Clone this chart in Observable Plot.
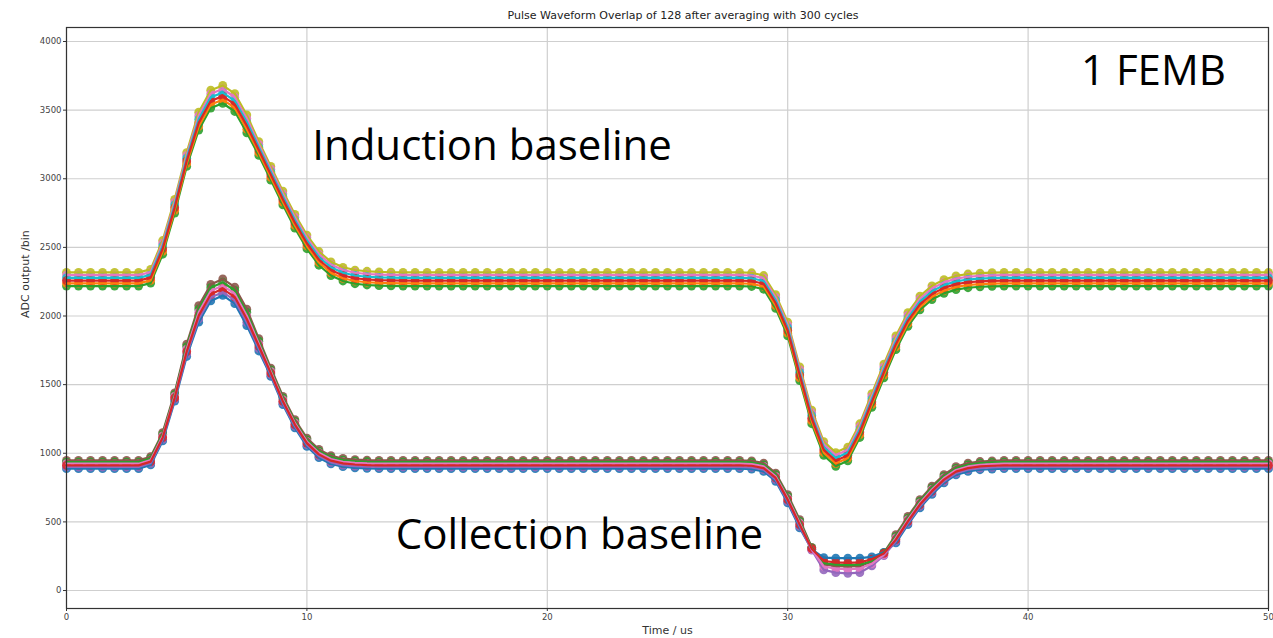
<!DOCTYPE html>
<html>
<head>
<meta charset="utf-8">
<script src="https://cdn.jsdelivr.net/npm/d3@7"></script>
<script src="https://cdn.jsdelivr.net/npm/@observablehq/plot@0.6"></script>
<style>
  html, body { margin: 0; padding: 0; background: #fff; }
  #title { height: 24px; box-sizing: border-box; padding-top: 10px; padding-left: 93px; line-height: 12px;
           text-align: center; font-family: "DejaVu Sans", sans-serif; font-size: 11px; color: #222; }
  #chart svg { display: block; }
</style>
</head>
<body>
<div id="title">Pulse Waveform Overlap of 128 after averaging with 300 cycles</div>
<div id="chart"></div>
<script>
// ---------- data ----------
const time = [
  0,0.5,1,1.5,2,2.5,3,3.5,4,4.5,
  5,5.5,6,6.5,7,7.5,8,8.5,9,9.5,
  10,10.5,11,11.5,12,12.5,13,13.5,14,14.5,
  15,15.5,16,16.5,17,17.5,18,18.5,19,19.5,
  20,20.5,21,21.5,22,22.5,23,23.5,24,24.5,
  25,25.5,26,26.5,27,27.5,28,28.5,29,29.5,
  30,30.5,31,31.5,32,32.5,33,33.5,34,34.5,
  35,35.5,36,36.5,37,37.5,38,38.5,39,39.5,
  40,40.5,41,41.5,42,42.5,43,43.5,44,44.5,
  45,45.5,46,46.5,47,47.5,48,48.5,49,49.5,
  50
];

// Induction-plane channels (ADC counts)
const inductionA = [
  2318,2318,2318,2318,2318,2318,2318,
  2340,2550,2850,3190,3485,3645,3680,3620,3465,3270,3090,2910,2740,2590,2470,2395,2355,2335,2326,2321,2319,
  2318,2318,2318,2318,2318,2318,2318,2318,2318,2318,
  2318,2318,2318,2318,2318,2318,2318,2318,2318,2318,
  2318,2318,2318,2318,2318,2318,2318,2318,2318,
  2315,2295,2155,1955,1630,1315,1085,1005,1045,1215,1435,1650,1855,2025,2145,2220,2265,2292,2306,2313,2316,
  2318,2318,2318,2318,2318,2318,2318,2318,2318,2318,
  2318,2318,2318,2318,2318,2318,2318,2318,2318,2318,
  2318,2318,2318
];
const inductionB = [
  2298,2298,2298,2298,2298,2298,2298,
  2320,2530,2830,3170,3459,3619,3654,3594,3439,3250,3070,2890,2720,2570,2450,2375,2335,2315,2306,2301,2299,
  2298,2298,2298,2298,2298,2298,2298,2298,2298,2298,
  2298,2298,2298,2298,2298,2298,2298,2298,2298,2298,
  2298,2298,2298,2298,2298,2298,2298,2298,2298,
  2295,2275,2135,1935,1610,1295,1065,985,1025,1195,1415,1630,1835,2005,2125,2200,2245,2272,2286,2293,2296,
  2298,2298,2298,2298,2298,2298,2298,2298,2298,2298,
  2298,2298,2298,2298,2298,2298,2298,2298,2298,2298,
  2298,2298,2298
];
const inductionC = [
  2278,2278,2278,2278,2278,2278,2278,
  2300,2510,2810,3150,3433,3593,3628,3568,3413,3230,3050,2870,2700,2550,2430,2355,2315,2295,2286,2281,2279,
  2278,2278,2278,2278,2278,2278,2278,2278,2278,2278,
  2278,2278,2278,2278,2278,2278,2278,2278,2278,2278,
  2278,2278,2278,2278,2278,2278,2278,2278,2278,
  2275,2255,2115,1915,1590,1275,1045,965,1005,1175,1395,1610,1815,1985,2105,2180,2225,2252,2266,2273,2276,
  2278,2278,2278,2278,2278,2278,2278,2278,2278,2278,
  2278,2278,2278,2278,2278,2278,2278,2278,2278,2278,
  2278,2278,2278
];
const inductionD = [
  2258,2258,2258,2258,2258,2258,2258,
  2280,2490,2790,3130,3407,3567,3602,3542,3387,3210,3030,2850,2680,2530,2410,2335,2295,2275,2266,2261,2259,
  2258,2258,2258,2258,2258,2258,2258,2258,2258,2258,
  2258,2258,2258,2258,2258,2258,2258,2258,2258,2258,
  2258,2258,2258,2258,2258,2258,2258,2258,2258,
  2255,2235,2095,1895,1570,1255,1025,945,985,1155,1375,1590,1795,1965,2085,2160,2205,2232,2246,2253,2256,
  2258,2258,2258,2258,2258,2258,2258,2258,2258,2258,
  2258,2258,2258,2258,2258,2258,2258,2258,2258,2258,
  2258,2258,2258
];
const inductionE = [
  2238,2238,2238,2238,2238,2238,2238,
  2260,2470,2770,3110,3381,3541,3576,3516,3361,3190,3010,2830,2660,2510,2390,2315,2275,2255,2246,2241,2239,
  2238,2238,2238,2238,2238,2238,2238,2238,2238,2238,
  2238,2238,2238,2238,2238,2238,2238,2238,2238,2238,
  2238,2238,2238,2238,2238,2238,2238,2238,2238,
  2235,2215,2075,1875,1550,1235,1005,925,965,1135,1355,1570,1775,1945,2065,2140,2185,2212,2226,2233,2236,
  2238,2238,2238,2238,2238,2238,2238,2238,2238,2238,
  2238,2238,2238,2238,2238,2238,2238,2238,2238,2238,
  2238,2238,2238
];
const inductionF = [
  2218,2218,2218,2218,2218,2218,2218,
  2240,2450,2750,3090,3355,3515,3550,3490,3335,3170,2990,2810,2640,2490,2370,2295,2255,2235,2226,2221,2219,
  2218,2218,2218,2218,2218,2218,2218,2218,2218,2218,
  2218,2218,2218,2218,2218,2218,2218,2218,2218,2218,
  2218,2218,2218,2218,2218,2218,2218,2218,2218,
  2215,2195,2055,1855,1530,1215,985,905,945,1115,1335,1550,1755,1925,2045,2120,2165,2192,2206,2213,2216,
  2218,2218,2218,2218,2218,2218,2218,2218,2218,2218,
  2218,2218,2218,2218,2218,2218,2218,2218,2218,2218,
  2218,2218,2218
];

// Collection-plane channels (ADC counts)
const collectionA = [
  948,948,948,948,948,948,948,
  975,1150,1440,1795,2075,2230,2270,2210,2050,1835,1620,1415,1245,1110,1028,982,962,954,950,
  948,948,948,948,948,948,948,948,948,948,
  948,948,948,948,948,948,948,948,948,948,
  948,948,948,948,948,948,948,948,948,948,
  948,
  945,928,856,698,516,315,190,178,175,178,210,275,407,540,662,760,844,902,928,940,945,
  948,948,948,948,948,948,948,948,948,948,
  948,948,948,948,948,948,948,948,948,948,
  948,948,948
];
const collectionB = [
  936,936,936,936,936,936,936,
  963,1138,1428,1777,2051,2206,2246,2186,2026,1817,1608,1403,1233,1098,1016,970,950,942,938,
  936,936,936,936,936,936,936,936,936,936,
  936,936,936,936,936,936,936,936,936,936,
  936,936,936,936,936,936,936,936,936,936,
  936,
  933,916,844,686,504,310,200,188,185,188,215,272,395,528,650,748,832,890,916,928,933,
  936,936,936,936,936,936,936,936,936,936,
  936,936,936,936,936,936,936,936,936,936,
  936,936,936
];
const collectionC = [
  924,924,924,924,924,924,924,
  951,1126,1416,1759,2027,2182,2222,2162,2002,1799,1596,1391,1221,1086,1004,958,938,930,926,
  924,924,924,924,924,924,924,924,924,924,
  924,924,924,924,924,924,924,924,924,924,
  924,924,924,924,924,924,924,924,924,924,
  924,
  921,904,832,674,492,300,175,160,155,160,195,262,383,516,638,736,820,878,904,916,921,
  924,924,924,924,924,924,924,924,924,924,
  924,924,924,924,924,924,924,924,924,924,
  924,924,924
];
const collectionD = [
  912,912,912,912,912,912,912,
  939,1114,1404,1741,2003,2158,2198,2138,1978,1781,1584,1379,1209,1074,992,946,926,918,914,
  912,912,912,912,912,912,912,912,912,912,
  912,912,912,912,912,912,912,912,912,912,
  912,912,912,912,912,912,912,912,912,912,
  912,
  909,892,820,662,480,305,215,205,202,205,228,270,371,504,626,724,808,866,892,904,909,
  912,912,912,912,912,912,912,912,912,912,
  912,912,912,912,912,912,912,912,912,912,
  912,912,912
];
const collectionE = [
  900,900,900,900,900,900,900,
  927,1102,1392,1723,1979,2134,2174,2114,1954,1763,1572,1367,1197,1062,980,934,914,906,902,
  900,900,900,900,900,900,900,900,900,900,
  900,900,900,900,900,900,900,900,900,900,
  900,900,900,900,900,900,900,900,900,900,
  900,
  897,880,808,650,468,295,150,130,125,130,180,255,359,492,614,712,796,854,880,892,897,
  900,900,900,900,900,900,900,900,900,900,
  900,900,900,900,900,900,900,900,900,900,
  900,900,900
];
const collectionF = [
  888,888,888,888,888,888,888,
  915,1090,1380,1705,1955,2110,2150,2090,1930,1745,1560,1355,1185,1050,968,922,902,894,890,
  888,888,888,888,888,888,888,888,888,888,
  888,888,888,888,888,888,888,888,888,888,
  888,888,888,888,888,888,888,888,888,888,
  888,
  885,868,796,638,456,300,240,236,236,236,245,278,347,480,602,700,784,842,868,880,885,
  888,888,888,888,888,888,888,888,888,888,
  888,888,888,888,888,888,888,888,888,888,
  888,888,888
];

const xTicks = [0, 10, 20, 30, 40, 50];
const yTicks = [0, 500, 1000, 1500, 2000, 2500, 3000, 3500, 4000];

const annotationText = ["1 FEMB", "Induction baseline", "Collection baseline"];
const annotationTime = [42.2, 10.22, 13.7];
const annotationADC  = [3681, 3134, 304];

// ---------- series config (draw order, colours) ----------
const series = [
  {values: inductionA,  color: "#bcbd22"},
  {values: inductionF,  color: "#2ca02c"},
  {values: inductionB,  color: "#e377c2"},
  {values: inductionE,  color: "#ff7f0e"},
  {values: inductionC,  color: "#17becf"},
  {values: inductionD,  color: "#d62728"},
  {values: collectionA, color: "#8c564b"},
  {values: collectionF, color: "#1f77b4"},
  {values: collectionB, color: "#2ca02c"},
  {values: collectionE, color: "#9467bd"},
  {values: collectionC, color: "#e377c2"},
  {values: collectionD, color: "#d62728"}
];

const problems = [];
series.forEach((s, k) => { if (s.values.length !== time.length) problems.push(`series ${k}: ${s.values.length}`); });

const seriesRows = series.map(s => time.map((t, i) => ({t, v: s.values[i]})));
// markers of every channel first, then the traces on top (the band interior shows the traces)
const dotMarks = series.map((s, k) => Plot.dot(seriesRows[k], {x: "t", y: "v", r: 4.4, fill: s.color, fillOpacity: 0.9, stroke: "none"}));
const lineMarks = series.map((s, k) => Plot.line(seriesRows[k], {x: "t", y: "v", stroke: s.color, strokeWidth: 2.2}));

const annotations = annotationText.map((text, i) => ({text, t: annotationTime[i], v: annotationADC[i]}));

const chart = Plot.plot({
  width: 1273,
  height: 614,
  marginLeft: 66,
  marginRight: 5,
  marginTop: 3,
  marginBottom: 30,
  style: {fontFamily: "DejaVu Sans, sans-serif", fontSize: "8.5px", background: "#fff", color: "#333"},
  x: {domain: [0, 50]},
  y: {domain: [-131, 4102]},
  marks: [
    Plot.gridX(xTicks, {stroke: "#cfcfcf", strokeOpacity: 1, strokeWidth: 1.2}),
    Plot.gridY(yTicks, {stroke: "#cfcfcf", strokeOpacity: 1, strokeWidth: 1.2}),
    ...dotMarks,
    ...lineMarks,
    Plot.axisX(xTicks, {tickSize: 3, tickPadding: 2, tickFormat: "d", label: null, fill: "#444", stroke: "#333"}),
    Plot.axisY(yTicks, {tickSize: 3, tickPadding: 2, tickFormat: "d", label: null, fill: "#444", stroke: "#333"}),
    Plot.frame({stroke: "#333", strokeWidth: 1.2}),
    Plot.text(["Time / us"], {frameAnchor: "bottom", dy: 22, lineAnchor: "middle", fontSize: 11, fill: "#333"}),
    Plot.text(["ADC output /bin"], {frameAnchor: "left", dx: -41, rotate: -90, fontSize: 11, fill: "#333"}),
    Plot.text(annotations, {x: "t", y: "v", text: "text", textAnchor: "start", lineAnchor: "bottom",
      fontSize: 42, fontFamily: "Open Sans, sans-serif", fill: "#000"})
  ]
});
document.getElementById("chart").appendChild(chart);
if (problems.length) {
  const d = document.createElement("div");
  d.textContent = "LENGTH MISMATCH " + problems.join("; ");
  d.style.cssText = "position:absolute;top:0;left:0;color:red;font-size:14px";
  document.body.appendChild(d);
}
</script>
</body>
</html>
